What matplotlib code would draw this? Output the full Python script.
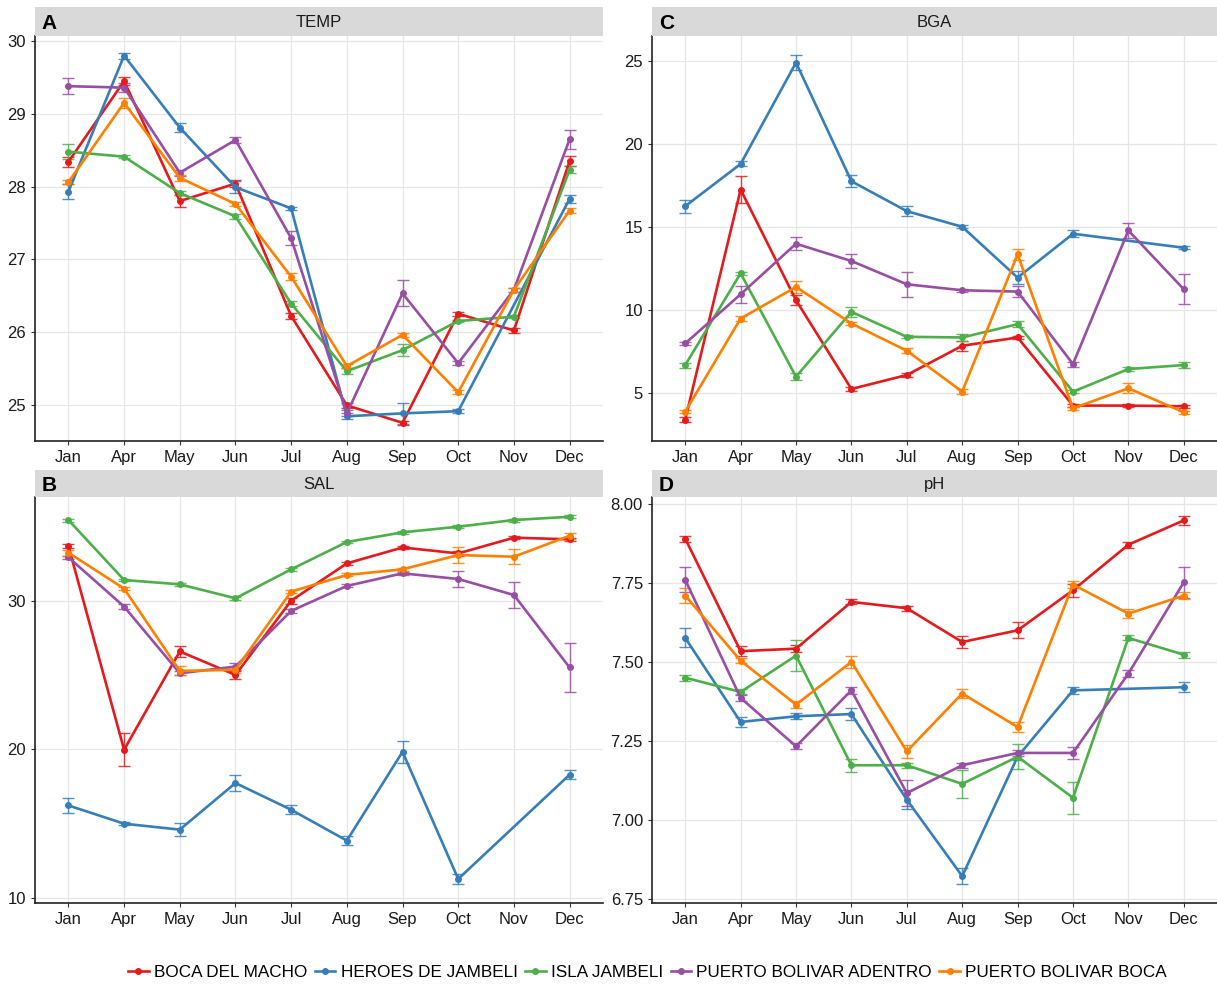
import numpy as np
import matplotlib
matplotlib.use("Agg")
import matplotlib.pyplot as plt
from matplotlib.lines import Line2D

plt.rcParams['font.family'] = ['Liberation Sans', 'DejaVu Sans']

# data; HEROES DE JAMBELI has no November value
months = ["Jan", "Apr", "May", "Jun", "Jul", "Aug", "Sep", "Oct", "Nov", "Dec"]
sites = ["BOCA DEL MACHO", "HEROES DE JAMBELI", "ISLA JAMBELI",
         "PUERTO BOLIVAR ADENTRO", "PUERTO BOLIVAR BOCA"]
colors = ["#E41A1C", "#377EB8", "#4DAF4A", "#984EA3", "#FF7F00"]
NA = np.nan

temp_mean = [
    [28.34, 29.45, 27.80, 28.04, 26.22, 24.99, 24.75, 26.25, 26.02, 28.35],
    [27.93, 29.80, 28.81, 27.99, 27.70, 24.84, 24.88, 24.91, NA, 27.83],
    [28.48, 28.41, 27.91, 27.59, 26.39, 25.46, 25.75, 26.15, 26.21, 28.23],
    [29.38, 29.36, 28.19, 28.64, 27.29, 24.88, 26.53, 25.57, 26.58, 28.65],
    [28.06, 29.15, 28.12, 27.76, 26.76, 25.53, 25.96, 25.17, 26.58, 27.67],
]
temp_se = [
    [0.07, 0.05, 0.08, 0.05, 0.04, 0.03, 0.03, 0.03, 0.03, 0.07],
    [0.10, 0.04, 0.06, 0.08, 0.02, 0.04, 0.14, 0.03, NA, 0.05],
    [0.10, 0.02, 0.03, 0.03, 0.04, 0.04, 0.08, 0.02, 0.02, 0.05],
    [0.11, 0.06, 0.04, 0.04, 0.10, 0.04, 0.18, 0.03, 0.03, 0.13],
    [0.03, 0.07, 0.04, 0.03, 0.05, 0.03, 0.03, 0.03, 0.03, 0.03],
]

sal_mean = [
    [33.70, 19.98, 26.60, 25.02, 30.02, 32.53, 33.60, 33.20, 34.26, 34.15],
    [16.23, 15.00, 14.60, 17.74, 15.94, 13.86, 19.84, 11.28, NA, 18.30],
    [35.45, 31.41, 31.12, 30.18, 32.13, 33.97, 34.62, 35.00, 35.45, 35.67],
    [32.94, 29.62, 25.13, 25.58, 29.33, 31.01, 31.86, 31.48, 30.40, 25.52],
    [33.25, 30.83, 25.29, 25.36, 30.63, 31.75, 32.13, 33.09, 32.98, 34.39],
]
sal_se = [
    [0.15, 1.10, 0.35, 0.25, 0.20, 0.10, 0.10, 0.15, 0.10, 0.10],
    [0.50, 0.10, 0.45, 0.55, 0.30, 0.30, 0.75, 0.35, NA, 0.30],
    [0.10, 0.10, 0.10, 0.10, 0.10, 0.10, 0.10, 0.10, 0.10, 0.10],
    [0.10, 0.15, 0.15, 0.25, 0.15, 0.10, 0.10, 0.56, 0.86, 1.65],
    [0.20, 0.10, 0.30, 0.20, 0.10, 0.10, 0.10, 0.56, 0.50, 0.20],
]

bga_mean = [
    [3.42, 17.26, 10.60, 5.26, 6.10, 7.86, 8.36, 4.26, 4.26, 4.22],
    [16.26, 18.80, 24.90, 17.76, 15.96, 15.02, 11.96, 14.60, NA, 13.76],
    [6.70, 12.22, 6.00, 9.90, 8.40, 8.36, 9.16, 5.10, 6.46, 6.70],
    [8.00, 10.96, 14.00, 12.96, 11.56, 11.20, 11.12, 6.76, 14.80, 11.26],
    [3.90, 9.50, 11.40, 9.20, 7.56, 5.10, 13.36, 4.10, 5.30, 3.86],
]
bga_se = [
    [0.15, 0.80, 0.30, 0.10, 0.10, 0.30, 0.10, 0.10, 0.10, 0.10],
    [0.40, 0.15, 0.45, 0.35, 0.30, 0.10, 0.40, 0.20, NA, 0.10],
    [0.15, 0.10, 0.20, 0.30, 0.10, 0.20, 0.20, 0.10, 0.10, 0.20],
    [0.10, 0.50, 0.40, 0.45, 0.75, 0.10, 0.35, 0.15, 0.45, 0.90],
    [0.10, 0.15, 0.35, 0.10, 0.15, 0.15, 0.35, 0.10, 0.30, 0.10],
]

ph_mean = [
    [7.890, 7.534, 7.542, 7.690, 7.670, 7.563, 7.600, 7.727, 7.871, 7.948],
    [7.576, 7.310, 7.328, 7.335, 7.064, 6.822, 7.200, 7.410, NA, 7.420],
    [7.450, 7.405, 7.520, 7.173, 7.173, 7.114, 7.200, 7.070, 7.576, 7.523],
    [7.760, 7.386, 7.233, 7.410, 7.085, 7.173, 7.212, 7.212, 7.463, 7.752],
    [7.710, 7.504, 7.365, 7.500, 7.217, 7.400, 7.294, 7.745, 7.653, 7.710],
]
ph_se = [
    [0.010, 0.015, 0.010, 0.008, 0.008, 0.020, 0.025, 0.020, 0.010, 0.015],
    [0.030, 0.015, 0.010, 0.020, 0.030, 0.025, 0.010, 0.010, NA, 0.015],
    [0.010, 0.008, 0.050, 0.020, 0.008, 0.045, 0.040, 0.050, 0.008, 0.010],
    [0.040, 0.010, 0.010, 0.010, 0.040, 0.008, 0.010, 0.020, 0.010, 0.050],
    [0.025, 0.008, 0.010, 0.020, 0.020, 0.015, 0.015, 0.010, 0.015, 0.010],
]

W, H = 1217, 988
fig = plt.figure(figsize=(W / 100, H / 100), dpi=100)


def box(x0, y0, x1, y1):
    # pixel box (top-left origin) -> figure fraction
    return [x0 / W, 1 - y1 / H, (x1 - x0) / W, (y1 - y0) / H]


def panel(pos, strip, letter, title, mean, se, ylim, yticks, fmt):
    ax = fig.add_axes(box(*pos))
    sx = fig.add_axes(box(pos[0], strip[0], pos[2], strip[1]))
    sx.set_facecolor("#D9D9D9")
    sx.set_xticks([])
    sx.set_yticks([])
    for s in sx.spines.values():
        s.set_visible(False)
    sx.text(0.5, 0.45, title, ha="center", va="center", fontsize=12, color="#1A1A1A",
            transform=sx.transAxes)
    sx.text(0.012, 0.42, letter, ha="left", va="center", fontsize=15, fontweight="bold",
            transform=sx.transAxes)

    x = np.arange(len(months))
    for m, e, c in zip(mean, se, colors):
        m = np.array(m, dtype=float)
        e = np.array(e, dtype=float)
        ok = ~np.isnan(m)
        ax.errorbar(x[ok], m[ok], yerr=e[ok], fmt="none", ecolor=c, elinewidth=1.0,
                    capsize=4, capthick=1.0, alpha=0.85, zorder=3)
        ax.plot(x[ok], m[ok], color=c, lw=1.9, marker="o", ms=4, zorder=4)

    ax.set_xlim(-0.6, len(months) - 0.4)
    ax.set_ylim(*ylim)
    ax.set_xticks(x)
    ax.set_xticklabels(months)
    ax.set_yticks(yticks)
    ax.set_yticklabels([fmt.format(v) for v in yticks])
    ax.grid(True, color="#E6E6E6", lw=0.9)
    ax.set_axisbelow(True)
    for s in ["top", "right"]:
        ax.spines[s].set_visible(False)
    for s in ["left", "bottom"]:
        ax.spines[s].set_color("#222222")
        ax.spines[s].set_linewidth(1.2)
    ax.tick_params(labelsize=12, colors="#333333", length=3, width=0.8,
                   labelcolor="#1A1A1A")
    return ax


panel((35, 36, 603, 441), (7, 36), "A", "TEMP", temp_mean, temp_se,
      (24.5, 30.07), [25, 26, 27, 28, 29, 30], "{:g}")
panel((652, 36, 1217, 441), (7, 36), "C", "BGA", bga_mean, bga_se,
      (2.13, 26.5), [5, 10, 15, 20, 25], "{:g}")
panel((35, 497, 603, 903), (470, 497), "B", "SAL", sal_mean, sal_se,
      (9.66, 37.0), [10, 20, 30], "{:g}")
panel((652, 497, 1217, 903), (470, 497), "D", "pH", ph_mean, ph_se,
      (6.737, 8.022), [6.75, 7.00, 7.25, 7.50, 7.75, 8.00], "{:.2f}")

handles = [Line2D([], [], color=c, lw=1.9, marker="o", ms=4) for c in colors]
fig.legend(handles, sites, loc="center", bbox_to_anchor=(0.532, 1 - 972 / H), ncol=5,
           frameon=False, fontsize=12.3, handlelength=1.2, handletextpad=0.3,
           columnspacing=0.45)

fig.savefig("out.png", dpi=100)
